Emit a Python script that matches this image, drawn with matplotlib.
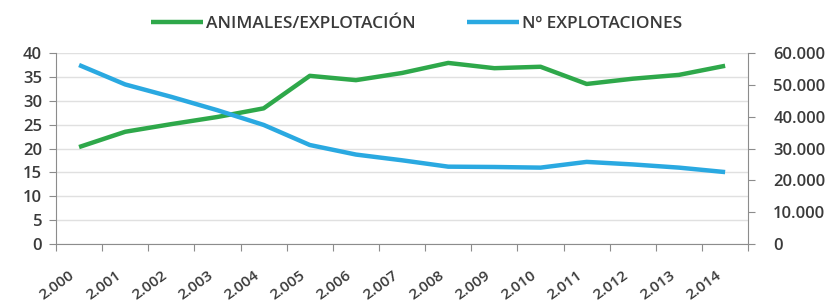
import matplotlib.pyplot as plt
import matplotlib.transforms as mtransforms
from matplotlib.ticker import FuncFormatter, MultipleLocator

plt.rcParams["font.family"] = ["Open Sans", "DejaVu Sans"]

years = ["2.000", "2.001", "2.002", "2.003", "2.004", "2.005", "2.006", "2.007",
         "2.008", "2.009", "2.010", "2.011", "2.012", "2.013", "2.014"]
animales_explotacion = [20.3, 23.5, 25.1, 26.6, 28.4, 35.2, 34.3, 35.8,
                        37.9, 36.8, 37.1, 33.5, 34.6, 35.4, 37.3]
num_explotaciones = [56200, 50100, 46200, 42000, 37400, 31100, 28100, 26300,
                     24300, 24200, 24000, 25800, 25000, 24000, 22600]

green = "#2ea84a"
blue = "#2aa9e1"
text_col = "#3a3a3a"
axis_col = "#8c8c8c"

fig = plt.figure(figsize=(8.33, 3.04), dpi=100)
ax = fig.add_axes([0.0672, 0.197, 0.831, 0.629])
ax2 = ax.twinx()

x = list(range(len(years)))
l1, = ax.plot(x, animales_explotacion, color=green, lw=3.2,
              label="ANIMALES/EXPLOTACIÓN", solid_capstyle="butt")
l2, = ax2.plot(x, num_explotaciones, color=blue, lw=3.2,
               label="Nº EXPLOTACIONES", solid_capstyle="butt")

ax.set_xlim(-0.5, len(years) - 0.5)
ax.set_ylim(0, 40)
ax2.set_ylim(0, 60000)
ax.yaxis.set_major_locator(MultipleLocator(5))
ax2.yaxis.set_major_locator(MultipleLocator(10000))
ax2.yaxis.set_major_formatter(
    FuncFormatter(lambda v, p: f"{int(v):,}".replace(",", ".")))

ax.grid(axis="y", color="#e0e0e0", lw=1)
ax.set_axisbelow(True)

# ticks on category boundaries, labels at category centres
ax.set_xticks([i - 0.5 for i in range(len(years) + 1)])
ax.set_xticklabels([])
ax.set_xticks(x, minor=True)
ax.set_xticklabels(years, minor=True, rotation=36, ha="right",
                   rotation_mode="anchor", fontsize=11, color=text_col,
                   fontweight="semibold")
ax.tick_params(axis="x", which="minor", length=0, pad=17)
ax.tick_params(axis="x", which="major", length=5, color=axis_col, direction="out")
shift = mtransforms.ScaledTranslation(-10 / 100, 0, fig.dpi_scale_trans)
for lab in ax.get_xticklabels(minor=True):
    lab.set_transform(lab.get_transform() + shift)

ax.tick_params(axis="y", length=5, color=axis_col, labelsize=12,
               labelcolor=text_col, pad=5)
ax2.tick_params(axis="y", length=5, color=axis_col, labelsize=12,
                labelcolor=text_col, pad=13)
for lab in ax.get_yticklabels() + ax2.get_yticklabels():
    lab.set_fontweight("semibold")

for a in (ax, ax2):
    a.spines["top"].set_visible(False)
    for s in ("left", "right", "bottom"):
        a.spines[s].set_color(axis_col)
ax.spines["right"].set_visible(False)
ax2.spines["left"].set_visible(False)
ax2.spines["bottom"].set_visible(False)

fig.legend(handles=[l1, l2], loc="upper center", bbox_to_anchor=(0.5, 1.0),
           ncol=2, frameon=False, handlelength=3.0, handletextpad=0.15,
           columnspacing=3.0, labelcolor=text_col,
           prop={"size": 12.5, "weight": "semibold"})

fig.savefig("out.png", dpi=100)
